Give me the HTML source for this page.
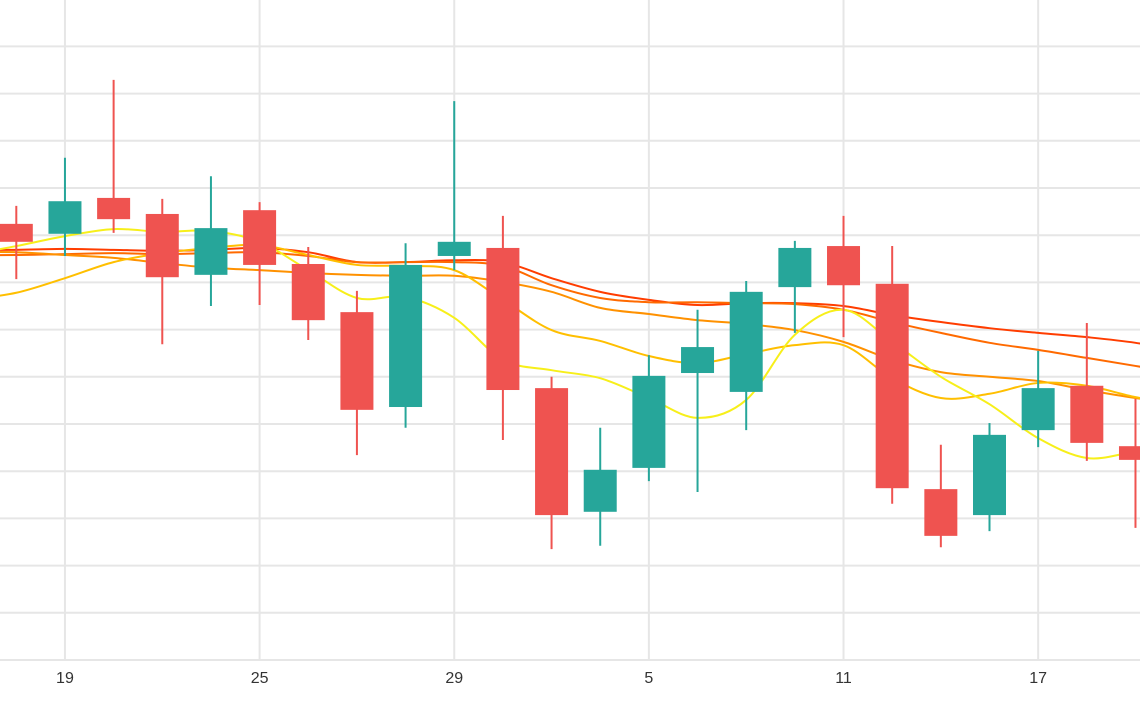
<!DOCTYPE html>
<html><head><meta charset="utf-8">
<style>
html,body{margin:0;padding:0;background:#fff;}
svg{display:block;font-family:"Liberation Sans",sans-serif;}
</style></head>
<body>
<svg id="chart" width="1140" height="710" viewBox="0 0 1140 710" xmlns="http://www.w3.org/2000/svg">
<g id="grid"></g>
<g id="lines"></g>
<g id="candles"></g>
<g id="xaxis"></g>
</svg>
<script>
const opens  = [92.4,90.3,97.9,94.5,81.6,95.3,83.9,73.7,53.6,85.6,87.3,57.6,31.4,40.7,60.8,56.8,79.0,87.7,79.7,36.2,30.7,48.7,58.1,45.3];
const closes = [88.6,97.2,93.4,81.1,91.5,83.7,72.0,53.0,83.7,88.6,57.2,30.7,40.3,60.2,66.3,78.0,87.3,79.4,36.4,26.3,47.7,57.6,46.0,42.4];
const highs  = [96.2,106.4,122.9,97.7,102.5,97.0,87.5,78.2,88.3,118.4,94.1,60.0,49.2,64.6,74.2,80.3,88.8,94.1,87.7,45.6,50.2,65.5,71.4,55.3];
const lows   = [80.7,85.6,90.5,66.9,75.0,75.2,67.8,43.4,49.2,82.6,46.6,23.5,24.2,37.9,35.6,48.7,69.3,68.4,33.1,23.9,27.3,45.1,42.2,28.0];
// moving averages, indices -1..24
const ma1 = [85.8,87.7,89.8,91.3,90.7,90.9,88.6,82.6,76.7,76.9,72.5,63.6,61.4,59.7,55.5,51.3,55.1,68.9,74.2,67.4,60.0,54.2,47.0,42.8,44.1,44.9];
const ma2 = [76.3,77.8,80.9,84.3,86.2,87.3,87.9,85.8,83.7,83.5,82.6,76.3,69.9,67.6,64.4,62.9,64.8,66.7,66.7,59.7,55.5,56.4,58.7,58.1,55.7,54.0];
const ma3 = [86.4,86.4,85.8,85.2,84.1,83.1,82.6,82.0,81.6,81.4,81.4,80.1,78.0,74.6,73.3,72.0,71.2,69.9,67.4,63.6,61.0,60.0,59.1,57.2,55.5,54.2];
const ma4 = [85.8,85.8,86.0,86.2,86.0,86.2,86.4,85.6,84.3,84.3,84.3,83.5,79.4,76.7,75.8,75.8,75.6,75.4,74.2,71.6,69.3,67.2,65.7,64.0,62.3,60.6];
const ma5 = [86.9,86.9,87.1,86.9,86.7,86.9,87.3,86.4,84.3,84.3,84.7,84.3,80.9,78.0,76.3,75.2,75.6,75.6,75.0,73.1,71.6,70.3,69.3,68.4,67.2,65.3];
const yTicks = [0,10,20,30,40,50,60,70,80,90,100,110,120,130];
const xLabels = [[1,"19"],[5,"25"],[9,"29"],[13,"5"],[17,"11"],[21,"17"]];

const NS="http://www.w3.org/2000/svg";
const X = i => 16.3 + i*48.66;
const Y = p => 660 - p*4.72;
function mk(tag, attrs, parent){const e=document.createElementNS(NS,tag);for(const k in attrs)e.setAttribute(k,attrs[k]);parent.appendChild(e);return e;}

const grid=document.getElementById('grid');
yTicks.forEach(t=>{
  const l=mk('line',{x1:0,x2:1140,y1:Y(t),y2:Y(t),stroke:'#e6e6e6','stroke-width':2},grid);
  
  
});
const xa=document.getElementById('xaxis');
xLabels.forEach(([i,s])=>{
  const l=mk('line',{x1:X(i),x2:X(i),y1:0,y2:660,stroke:'#e6e6e6','stroke-width':2},grid);
  
  
  const t=mk('text',{x:X(i),y:683,'text-anchor':'middle','font-size':16,fill:'#333'},xa);
  t.textContent=s;
  
  
});

function smooth(pts){
  let d=`M${pts[0][0]},${pts[0][1]}`;
  for(let i=0;i<pts.length-1;i++){
    const p0=pts[Math.max(0,i-1)],p1=pts[i],p2=pts[i+1],p3=pts[Math.min(pts.length-1,i+2)];
    const c1=[p1[0]+(p2[0]-p0[0])/6,p1[1]+(p2[1]-p0[1])/6];
    const c2=[p2[0]-(p3[0]-p1[0])/6,p2[1]-(p3[1]-p1[1])/6];
    d+=` C${c1[0]},${c1[1]} ${c2[0]},${c2[1]} ${p2[0]},${p2[1]}`;
  }
  return d;
}
const lg=document.getElementById('lines');
[[ma5,'#ff3d00','ma-red'],[ma4,'#ff6a00','ma-dark-orange'],[ma3,'#ff9100','ma-orange'],[ma2,'#ffbf00','ma-amber'],[ma1,'#f7ef1a','ma-yellow']].forEach(([arr,c,n])=>{
  const pts=arr.map((v,k)=>[X(k-1),Y(v)]);
  const p=mk('path',{d:smooth(pts),fill:'none',stroke:c,'stroke-width':2},lg);
  
  
});

const cg=document.getElementById('candles');
opens.forEach((o,i)=>{
  const c=closes[i], up=c>=o, col=up?'#26a69a':'#ef5350';
  const g=mk('g',{},cg);
  
  
  mk('line',{x1:X(i),x2:X(i),y1:Y(highs[i]),y2:Y(lows[i]),stroke:col,'stroke-width':2},g);
  const top=Y(Math.max(o,c)), bot=Y(Math.min(o,c));
  mk('rect',{x:X(i)-16.5,y:top,width:33,height:Math.max(1,bot-top),fill:col},g);
});
</script>
</body></html>
